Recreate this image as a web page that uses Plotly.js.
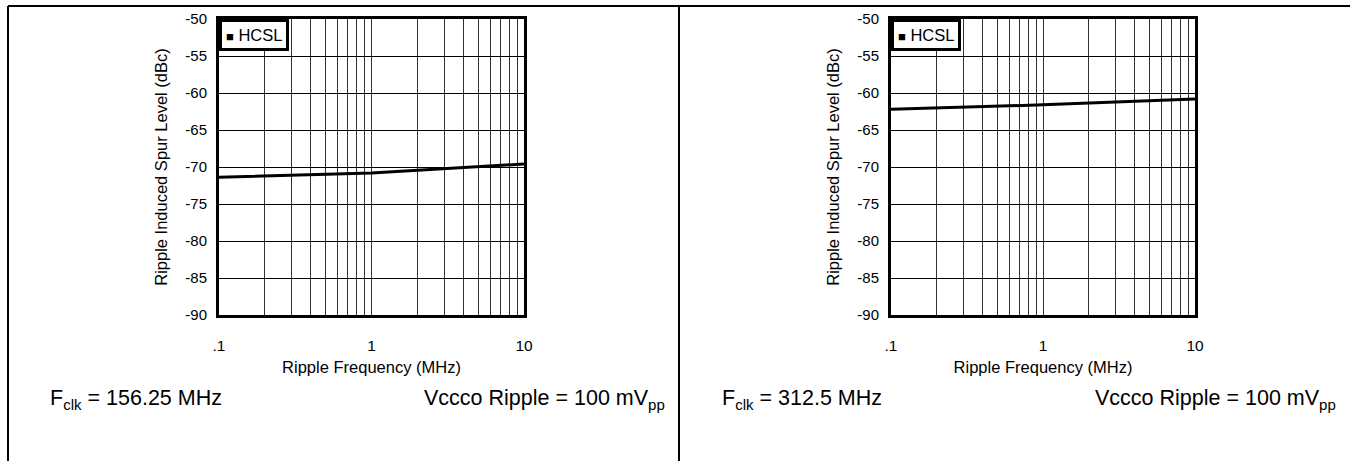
<!DOCTYPE html>
<html>
<head>
<meta charset="utf-8">
<script src="https://cdn.plot.ly/plotly-3.0.1.min.js"></script>
<style>html,body{margin:0;padding:0;background:#fff;}#chart{width:1351px;height:461px;}</style>
</head>
<body>
<div id="chart"></div>
<script>
// Data
const freqMHz = [0.1, 1, 10];
const spur156 = [-71.4, -70.8, -69.6];
const spur312 = [-62.2, -61.6, -60.8];
const seriesName = "HCSL";
const xTickVals = [0.1,0.2,0.3,0.4,0.5,0.6,0.7,0.8,0.9,1,2,3,4,5,6,7,8,9,10];
const xTickText = [".1","","","","","","","","","1","","","","","","","","","10"];
const yTickVals = [-90,-85,-80,-75,-70,-65,-60,-55,-50];
const yTickText = ["-90","-85","-80","-75","-70","-65","-60","-55","-50"];
const leftLabel = "F<sub>clk</sub> = 156.25 MHz";
const rightLabel = "F<sub>clk</sub> = 312.5 MHz";
const rippleLabel = "Vccco Ripple = 100 mV<sub>pp</sub>";

const W = 1351, H = 461;
const px = v => v / W;
const py = v => 1 - v / H;
const FONT = "Liberation Sans, Arial, sans-serif";

function xaxis(domain) {
  return {
    type: "log", domain: domain, range: [-1, 1],
    tickvals: xTickVals, ticktext: xTickText,
    showgrid: true, gridcolor: "#333", gridwidth: 1,
    showline: true, linecolor: "#000", linewidth: 3, mirror: true,
    ticks: "", ticklabelstandoff: 14, zeroline: false,
    tickfont: {size: 15.5, color: "#000", family: FONT},
    title: {text: "Ripple Frequency (MHz)", font: {size: 16.5, color: "#000", family: FONT}, standoff: 9}
  };
}
function yaxis(anchor) {
  return {
    domain: [py(315), py(19)], range: [-90, -50],
    tickvals: yTickVals, ticktext: yTickText,
    showgrid: true, gridcolor: "#000", gridwidth: 1,
    showline: true, linecolor: "#000", linewidth: 3, mirror: true,
    ticks: "", ticklabelstandoff: 6, zeroline: false, anchor: anchor,
    tickfont: {size: 15, color: "#000", family: FONT},
    title: {text: "Ripple Induced Spur Level (dBc)", font: {size: 16.5, color: "#000", family: FONT}, standoff: 14}
  };
}

const traces = [
  {x: freqMHz, y: spur156, xaxis: "x", yaxis: "y", mode: "lines", name: seriesName,
   line: {color: "#000", width: 3}, showlegend: false},
  {x: freqMHz, y: spur312, xaxis: "x2", yaxis: "y2", mode: "lines", name: seriesName,
   line: {color: "#000", width: 3}, showlegend: false}
];

const xa1 = xaxis([px(219), px(524)]); xa1.anchor = "y";
const xa2 = xaxis([px(891), px(1195)]); xa2.anchor = "y2";

const legendBox = (xr, yr) => ({
  xref: xr + " domain", yref: yr + " domain", x: 0, y: 1, xanchor: "left", yanchor: "top",
  text: "<span style='font-size:13px'>■</span> HCSL", showarrow: false, font: {size: 16.5, color: "#000", family: FONT},
  bgcolor: "#fff", bordercolor: "#000", borderwidth: 3, borderpad: 4
});
const txt = (t, x, y, anchor) => ({
  xref: "paper", yref: "paper", x: px(x), y: py(y), xanchor: anchor, yanchor: "middle",
  text: t, showarrow: false, font: {size: 21.5, color: "#000", family: FONT}
});

const layout = {
  width: W, height: H, margin: {l: 0, r: 0, t: 0, b: 0},
  paper_bgcolor: "#fff", plot_bgcolor: "#fff", showlegend: false,
  xaxis: xa1, yaxis: yaxis("x"), xaxis2: xa2, yaxis2: yaxis("x2"),
  annotations: [
    legendBox("x", "y"), legendBox("x2", "y2"),
    txt(leftLabel, 48, 399, "left"), txt(rippleLabel, 667, 399, "right"),
    txt(rightLabel, 720, 399, "left"), txt(rippleLabel, 1338, 399, "right")
  ],
  shapes: [
    {type: "line", xref: "paper", yref: "paper", x0: px(8), x1: px(1350), y0: py(6), y1: py(6), line: {color: "#000", width: 2}},
    {type: "line", xref: "paper", yref: "paper", x0: px(8), x1: px(8), y0: py(6), y1: 0, line: {color: "#000", width: 2}},
    {type: "line", xref: "paper", yref: "paper", x0: px(679), x1: px(679), y0: py(6), y1: 0, line: {color: "#000", width: 2}}
  ]
};

Plotly.newPlot("chart", traces, layout, {staticPlot: true, displayModeBar: false});
</script>
</body>
</html>
